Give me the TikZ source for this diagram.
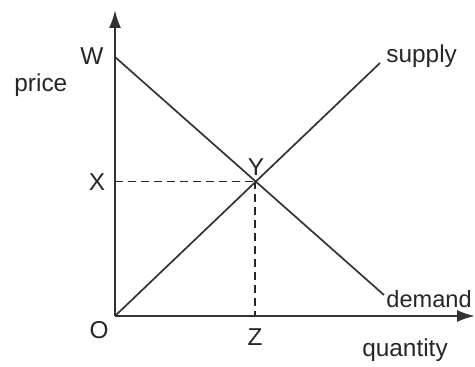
\documentclass[tikz,border=0pt]{standalone}
\usepackage{fontspec}
\setmainfont{Liberation Sans}
\usetikzlibrary{arrows.meta}
\begin{document}
\begin{tikzpicture}[x=0.5pt,y=-0.5pt,
  lbl/.style={font=\fontsize{12.2}{14}\selectfont, text=black!85, inner sep=0pt},
  axis/.style={line width=1pt, draw=black!80, -{Latex[length=9pt,width=6pt]}},
  curve/.style={line width=0.85pt, draw=black!80},
  guide/.style={line width=0.7pt, draw=black!85, dash pattern=on 4pt off 2.5pt}]
\useasboundingbox (0,0) rectangle (475,367);
\coordinate (O) at (115,316);
\coordinate (ytop) at (115,10);
\coordinate (xend) at (475,316);
\coordinate (W) at (115,57);
\coordinate (Dem) at (384,295);
\coordinate (Sup) at (380,63);
\coordinate (Y) at (255,181.5);
\coordinate (Xa) at (115,181.5);
\coordinate (Za) at (255,316);
% axes
\draw[axis] (O) -- (ytop);
\draw[axis] (O) -- (xend);
% guides
\draw[guide] (Xa) -- (Y);
\draw[guide] (Y) -- (Za);
% curves
\draw[curve] (W) -- (Dem);
\draw[curve] (O) -- (Sup);
% labels
\node[lbl] (lW) at (92,56) {W};
\node[lbl, anchor=base west] (lprice) at (14,92) {price};
\node[lbl] (lX) at (97,182) {X};
\node[lbl] (lY) at (256,167) {Y};
\node[lbl, anchor=base west] (lsup) at (386,63) {supply};
\node[lbl, anchor=base west, font=\fontsize{11.8}{14}\selectfont] (ldem) at (386,307) {demand};
\node[lbl] (lO) at (99,330) {O};
\node[lbl] (lZ) at (255,337.5) {Z};
\node[lbl, anchor=base] (lq) at (405,357) {quantity};
\end{tikzpicture}
\end{document}
